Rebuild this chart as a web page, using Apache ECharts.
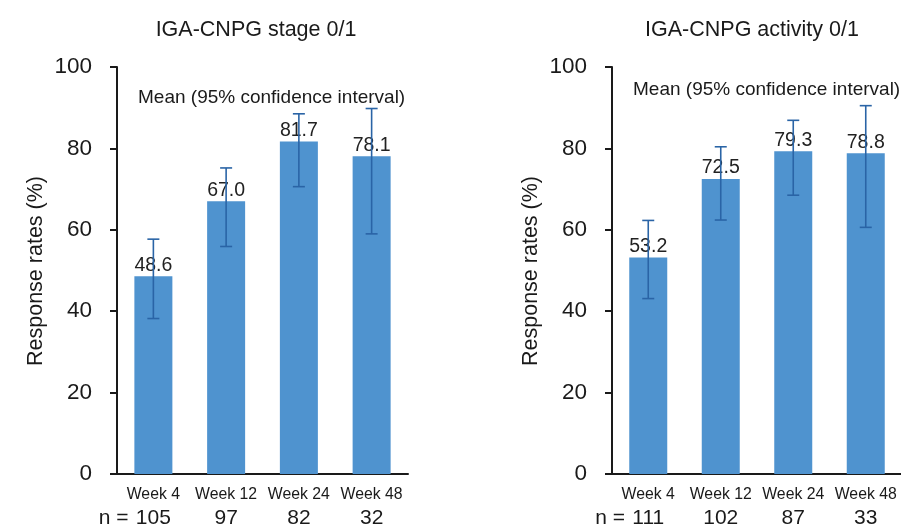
<!DOCTYPE html>
<html>
<head>
<meta charset="utf-8">
<script src="https://cdn.jsdelivr.net/npm/echarts@6/dist/echarts.min.js"></script>
<style>html,body{margin:0;padding:0;background:#fff}#c{width:901px;height:526px}</style>
</head>
<body>
<div id="c"></div>
<script>
const categories = ['Week 4', 'Week 12', 'Week 24', 'Week 48'];
const stageN = [105, 97, 82, 32];
const activityN = [111, 102, 87, 33];
const stageMean = [48.6, 67.0, 81.7, 78.1];
const stageLow = [38.2, 55.9, 70.6, 59.0];
const stageHigh = [57.7, 75.2, 88.5, 89.8];
const activityMean = [53.2, 72.5, 79.3, 78.8];
const activityLow = [43.1, 62.4, 68.5, 60.6];
const activityHigh = [62.3, 80.4, 86.9, 90.5];
const yTicks = [0, 20, 40, 60, 80, 100];
const titles = ['IGA-CNPG stage 0/1', 'IGA-CNPG activity 0/1'];
const noteText = 'Mean (95% confidence interval)';
const yName = 'Response rates (%)';

const FONT = '"Liberation Sans", Arial, Helvetica, sans-serif';
const AXIS = '#1a1a1a';
const BAR = '#4f93cf';
const ERR = '#2a64a6';

function xAxis(gridIndex, ns) {
  return {
    type: 'category', gridIndex, data: categories,
    axisLine: { lineStyle: { color: AXIS, width: 2 } },
    axisTick: { show: false },
    axisLabel: {
      interval: 0, margin: 11, color: AXIS, fontFamily: FONT,
      formatter: function (v, i) {
        if (i === 0) return '{w|' + v + '}\n{n|n = }{v|' + ns[i] + '}{p|}';
        return '{w|' + v + '}\n{v|' + ns[i] + '}';
      },
      rich: {
        w: { fontSize: 15.8, lineHeight: 20, color: AXIS, fontFamily: FONT },
        v: { fontSize: 21, lineHeight: 26, color: AXIS, fontFamily: FONT },
        n: { fontSize: 21, lineHeight: 26, color: AXIS, fontFamily: FONT, width: 37, align: 'left' },
        p: { fontSize: 21, lineHeight: 26, width: 37 }
      }
    }
  };
}
function yAxis(gridIndex) {
  return {
    type: 'value', gridIndex, min: yTicks[0], max: yTicks[yTicks.length - 1], interval: 20,
    axisLine: { show: true, lineStyle: { color: AXIS, width: 2 } },
    axisTick: { show: true, length: 7, lineStyle: { color: AXIS, width: 2 } },
    splitLine: { show: false },
    axisLabel: { margin: 25, fontSize: 22.5, color: AXIS, fontFamily: FONT }
  };
}
function barSeries(idx, vals) {
  return {
    type: 'bar', xAxisIndex: idx, yAxisIndex: idx, data: vals, barWidth: 38,
    itemStyle: { color: BAR }, z: 2,
    label: { show: true, position: 'top', distance: 1, fontSize: 19.5, color: '#222', fontFamily: FONT,
      formatter: p => p.value.toFixed(1) }
  };
}
function errSeries(idx, lows, highs) {
  return {
    type: 'custom', xAxisIndex: idx, yAxisIndex: idx, z: 5,
    data: categories.map((c, i) => [i, lows[i], highs[i]]),
    renderItem: function (params, api) {
      const lo = api.coord([api.value(0), api.value(1)]);
      const hi = api.coord([api.value(0), api.value(2)]);
      const x = lo[0], hw = 6;
      const st = { stroke: ERR, lineWidth: 1.6 };
      return { type: 'group', children: [
        { type: 'line', shape: { x1: x, y1: lo[1], x2: x, y2: hi[1] }, style: st },
        { type: 'line', shape: { x1: x - hw, y1: lo[1], x2: x + hw, y2: lo[1] }, style: st },
        { type: 'line', shape: { x1: x - hw, y1: hi[1], x2: x + hw, y2: hi[1] }, style: st }
      ]};
    }
  };
}
function txt(x, y, text, size, extra) {
  return Object.assign({ type: 'text', x, y, style: { text, fontSize: size, fontFamily: FONT, fill: AXIS,
    textAlign: 'center', textVerticalAlign: 'middle' } }, extra || {});
}

const chart = echarts.init(document.getElementById('c'));
chart.setOption({
  animation: false,
  grid: [
    { left: 117, top: 67, width: 291, height: 407, outerBoundsMode: 'none', containLabel: false },
    { left: 612, top: 67, width: 290, height: 407, outerBoundsMode: 'none', containLabel: false }
  ],
  xAxis: [xAxis(0, stageN), xAxis(1, activityN)],
  yAxis: [yAxis(0), yAxis(1)],
  series: [
    barSeries(0, stageMean), errSeries(0, stageLow, stageHigh),
    barSeries(1, activityMean), errSeries(1, activityLow, activityHigh)
  ],
  graphic: [
    txt(256, 30, titles[0], 21.5),
    txt(752, 30, titles[1], 21.5),
    { type: 'text', x: 138, y: 98, style: { text: noteText, fontSize: 19, fontFamily: FONT, fill: AXIS, textAlign: 'left', textVerticalAlign: 'middle' } },
    { type: 'text', x: 633, y: 90, style: { text: noteText, fontSize: 19, fontFamily: FONT, fill: AXIS, textAlign: 'left', textVerticalAlign: 'middle' } },
    txt(36, 271, yName, 21.5, { rotation: Math.PI / 2 }),
    txt(531, 271, yName, 21.5, { rotation: Math.PI / 2 })
  ]
});
</script>
</body>
</html>
